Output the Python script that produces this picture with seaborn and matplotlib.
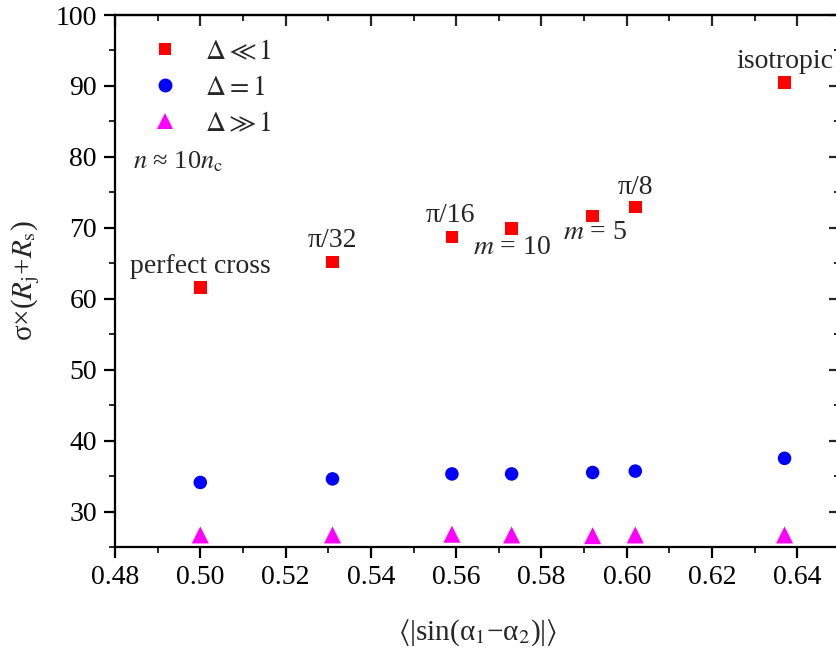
import numpy as np
import pandas as pd
import matplotlib
matplotlib.use("Agg")
import matplotlib.pyplot as plt
from matplotlib.ticker import MultipleLocator
from matplotlib.lines import Line2D
import seaborn as sns

# ---- data ----
x_vals = [0.500, 0.531, 0.559, 0.573, 0.592, 0.602, 0.637]
y_small = [61.6, 65.2, 68.7, 69.9, 71.7, 72.9, 90.5]   # Delta << 1
y_one = [34.1, 34.6, 35.3, 35.3, 35.5, 35.7, 37.5]      # Delta = 1
y_large = [26.7, 26.7, 26.8, 26.7, 26.6, 26.7, 26.7]    # Delta >> 1
series_names = [r'$\Delta\ll1$', r'$\Delta=1$', r'$\Delta\gg1$']
point_labels = ['perfect cross', 'π/32', 'π/16', r'$m$ = 10', r'$m$ = 5', 'π/8', 'isotropic']

sns.set_theme(style="ticks")
plt.rcParams['font.family'] = ['Liberation Serif', 'DejaVu Serif']
plt.rcParams['mathtext.fontset'] = 'stix'

df = pd.DataFrame({
    'x': x_vals * 3,
    'y': y_small + y_one + y_large,
    'series': [series_names[0]] * 7 + [series_names[1]] * 7 + [series_names[2]] * 7,
})

fig = plt.figure(figsize=(8.37, 6.52), dpi=100)
ax = fig.add_axes([115 / 837, 1 - 547 / 652, (840 - 115) / 837, (547 - 15) / 652])

sns.scatterplot(data=df, x='x', y='y', hue='series', style='series', size='series',
                palette={series_names[0]: '#ff0000', series_names[1]: '#0000ff', series_names[2]: '#ff00ff'},
                markers={series_names[0]: 's', series_names[1]: 'o', series_names[2]: '^'},
                sizes={series_names[0]: 80, series_names[1]: 95, series_names[2]: 150},
                linewidth=0, ax=ax, legend=True, clip_on=False)

ax.set_xlim(0.48, 0.65)
ax.set_ylim(25, 100)
ax.xaxis.set_minor_locator(MultipleLocator(0.01))
ax.yaxis.set_minor_locator(MultipleLocator(5))
ax.set_yticks([30, 40, 50, 60, 70, 80, 90, 100])
ax.set_xticks([0.48, 0.50, 0.52, 0.54, 0.56, 0.58, 0.60, 0.62, 0.64])
ax.set_xticklabels(['0.48', '0.50', '0.52', '0.54', '0.56', '0.58', '0.60', '0.62', '0.64'])

for sp in ax.spines.values():
    sp.set_linewidth(1.6)
    sp.set_color('black')
ax.tick_params(which='major', direction='out', length=8, width=1.6, labelsize=20, colors='black', pad=5)
ax.tick_params(which='minor', direction='out', length=4.5, width=1.4)

# mirrored ticks (inward) on top and right
secx = ax.secondary_xaxis('top')
secx.xaxis.set_major_locator(MultipleLocator(0.02))
secx.xaxis.set_minor_locator(MultipleLocator(0.01))
secx.tick_params(which='major', direction='in', length=8, width=1.6, labeltop=False)
secx.tick_params(which='minor', direction='in', length=4.5, width=1.4)
secx.spines['top'].set_linewidth(1.6)
secy = ax.secondary_yaxis('right')
secy.yaxis.set_major_locator(MultipleLocator(10))
secy.yaxis.set_minor_locator(MultipleLocator(5))
secy.tick_params(which='major', direction='in', length=8, width=1.6, labelright=False)
secy.tick_params(which='minor', direction='in', length=4.5, width=1.4)

ax.set_xlabel(r'$\langle$|sin(α$_\mathrm{1}$−α$_\mathrm{2}$)|$\rangle$', fontsize=21, labelpad=20)
ax.set_ylabel(r'σ×($R_\mathrm{j}$+$R_\mathrm{s}$)', fontsize=21, labelpad=10)

# point annotations
offsets = [(0, 2.9), (0, 3.0), (-0.04, 3.0), (0, -2.7), (0.07, -2.3), (0, 2.8), (0, 3.0)]
for xv, yv, lab, (dx, dy) in zip(x_vals, y_small, point_labels, offsets):
    ax.text(xv + dx * 0.01, yv + dy, lab, fontsize=20, ha='center', va='center')

ax.text(0.4842, 79.3, r'$n$ ≈ 10$n$$_\mathrm{c}$', fontsize=19, ha='left', va='center')

handles, labels = ax.get_legend_handles_labels()
leg = ax.legend(handles, labels, loc='upper left', frameon=False, fontsize=20,
                bbox_to_anchor=(0.015, 0.99), handletextpad=0.75, labelspacing=0.38,
                borderaxespad=0.3, handlelength=1.4)
msizes = [9.0, 10.0, 12.0]
for h, ms in zip(leg.legend_handles, msizes):
    if isinstance(h, Line2D):
        h.set_markersize(ms)
    else:
        h.set_sizes([ms ** 2])

fig.savefig('out.png', dpi=100)
